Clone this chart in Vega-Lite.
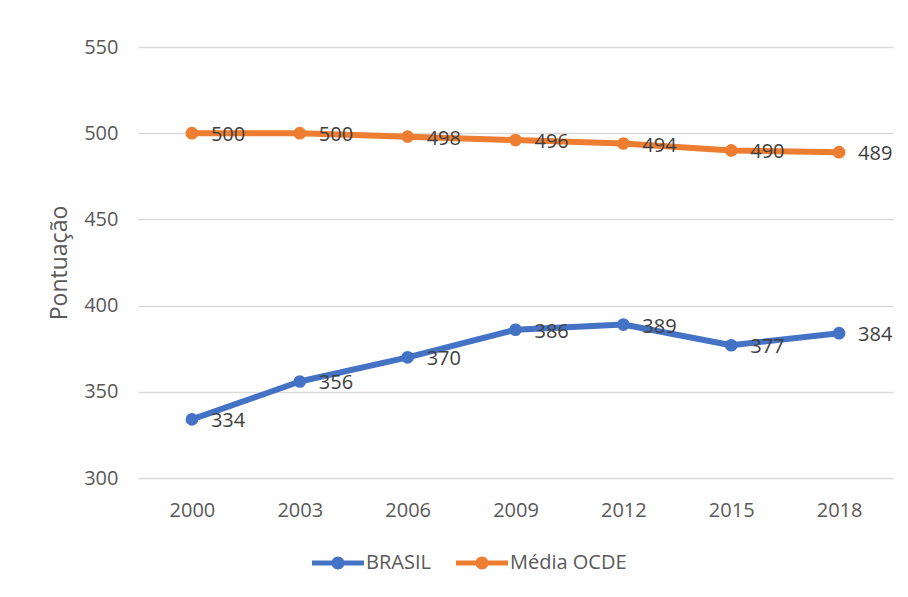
{
  "$schema": "https://vega.github.io/schema/vega-lite/v6.json",
  "width": 755,
  "height": 431,
  "autosize": "none",
  "padding": {"left": 138, "top": 47, "right": 15, "bottom": 119},
  "background": "white",
  "config": {
    "font": "Open Sans",
    "view": {"stroke": null},
    "axis": {"labelFont": "Open Sans", "titleFont": "Open Sans"},
    "legend": {"labelFont": "Open Sans"}
  },
  "data": {
    "values": [
      {"ano": "2000", "serie": "BRASIL", "pontos": 334},
      {"ano": "2003", "serie": "BRASIL", "pontos": 356},
      {"ano": "2006", "serie": "BRASIL", "pontos": 370},
      {"ano": "2009", "serie": "BRASIL", "pontos": 386},
      {"ano": "2012", "serie": "BRASIL", "pontos": 389},
      {"ano": "2015", "serie": "BRASIL", "pontos": 377},
      {"ano": "2018", "serie": "BRASIL", "pontos": 384},
      {"ano": "2000", "serie": "Média OCDE", "pontos": 500},
      {"ano": "2003", "serie": "Média OCDE", "pontos": 500},
      {"ano": "2006", "serie": "Média OCDE", "pontos": 498},
      {"ano": "2009", "serie": "Média OCDE", "pontos": 496},
      {"ano": "2012", "serie": "Média OCDE", "pontos": 494},
      {"ano": "2015", "serie": "Média OCDE", "pontos": 490},
      {"ano": "2018", "serie": "Média OCDE", "pontos": 489}
    ]
  },
  "encoding": {
    "x": {
      "field": "ano",
      "type": "ordinal",
      "scale": {"type": "point", "padding": 0.5},
      "axis": {
        "title": null,
        "labelAngle": 0,
        "labelFontSize": 20,
        "labelColor": "#595959",
        "labelPadding": 22,
        "ticks": false,
        "domain": false,
        "grid": false
      }
    },
    "y": {
      "field": "pontos",
      "type": "quantitative",
      "scale": {"domain": [300, 550], "nice": false, "zero": false},
      "axis": {
        "title": "Pontuação",
        "titleFontSize": 23,
        "titleFontWeight": "normal",
        "titleColor": "#595959",
        "titlePadding": 12,
        "values": [300, 350, 400, 450, 500, 550],
        "labelFontSize": 20,
        "labelColor": "#595959",
        "labelPadding": 20,
        "ticks": false,
        "domain": false,
        "gridColor": "#D9D9D9",
        "gridWidth": 1.5
      }
    },
    "color": {
      "field": "serie",
      "type": "nominal",
      "scale": {"domain": ["BRASIL", "Média OCDE"], "range": ["#4472C4", "#ED7D31"]},
      "legend": {
        "title": null,
        "orient": "none",
        "direction": "horizontal",
        "legendX": 174,
        "legendY": 490,
        "symbolType": "M-1,-0.1H1V0.1H-1Z M-0.25,0A0.25,0.25,0,1,1,0.25,0A0.25,0.25,0,1,1,-0.25,0Z",
        "symbolSize": 2704,
        "symbolStrokeWidth": 0,
        "labelFontSize": 20,
        "labelColor": "#595959",
        "labelOffset": 2,
        "columnPadding": 25,
        "encode": {
          "symbols": {
            "update": {
              "fill": {"scale": "color", "field": "value"},
              "strokeWidth": {"value": 0},
              "opacity": {"value": 1}
            }
          }
        }
      }
    }
  },
  "layer": [
    {
      "mark": {"type": "line", "strokeWidth": 6, "strokeCap": "round", "strokeJoin": "round"}
    },
    {
      "mark": {"type": "point", "filled": true, "size": 160, "opacity": 1}
    },
    {
      "mark": {"type": "text", "align": "left", "baseline": "middle", "dx": 19, "dy": 2, "fontSize": 20, "color": "#404040"},
      "encoding": {
        "text": {"field": "pontos", "type": "quantitative"},
        "color": {"value": "#404040"}
      }
    }
  ]
}
